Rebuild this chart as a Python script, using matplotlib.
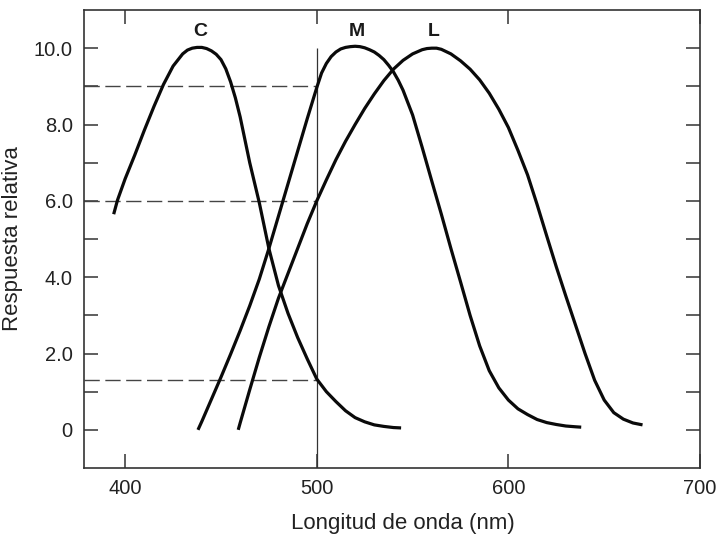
import matplotlib
matplotlib.use('Agg')
import matplotlib.pyplot as plt

plt.rcParams['font.family'] = ['Liberation Sans', 'DejaVu Sans']

# curvas (longitud de onda en nm, respuesta relativa)
c_wl = [394, 396, 400, 405, 410, 415, 420, 425, 430, 432.5, 435, 437.5, 440, 442.5,
        445, 447.5, 450, 452.5, 455, 457.5, 460, 465, 470, 475, 480, 485, 490, 495,
        500, 505, 510, 515, 520, 525, 530, 535, 540, 544]
c_val = [5.65, 6.02, 6.58, 7.2, 7.85, 8.47, 9.05, 9.53, 9.85, 9.95, 10.0, 10.02,
         10.02, 9.99, 9.93, 9.84, 9.7, 9.46, 9.12, 8.7, 8.2, 7.0, 5.95, 4.75, 3.78,
         3.05, 2.42, 1.86, 1.33, 1.0, 0.74, 0.5, 0.32, 0.21, 0.13, 0.09, 0.06, 0.05]

m_wl = [438, 440, 445, 450, 455, 460, 465, 470, 475, 480, 485, 490, 495, 500, 502.5,
        505, 507.5, 510, 512.5, 515, 517.5, 520, 522.5, 525, 527.5, 530, 532.5, 535,
        537.5, 540, 542.5, 545, 550, 555, 560, 565, 570, 575, 580, 585, 590, 595,
        600, 605, 610, 615, 620, 625, 630, 635, 638]
m_val = [0.0, 0.22, 0.8, 1.38, 1.98, 2.6, 3.25, 3.95, 4.75, 5.6, 6.45, 7.3, 8.15,
         8.97, 9.35, 9.6, 9.78, 9.9, 9.98, 10.02, 10.04, 10.05, 10.04, 10.01, 9.96,
         9.9, 9.81, 9.7, 9.55, 9.38, 9.16, 8.9, 8.25, 7.4, 6.52, 5.65, 4.75, 3.88,
         3.0, 2.2, 1.55, 1.1, 0.78, 0.55, 0.4, 0.27, 0.19, 0.14, 0.1, 0.08, 0.07]

l_wl = [459, 460, 465, 470, 475, 480, 485, 490, 495, 500, 505, 510, 515, 520, 525,
        530, 535, 540, 545, 550, 555, 557.5, 560, 562.5, 565, 570, 575, 580, 585,
        590, 595, 600, 605, 610, 615, 620, 625, 630, 635, 640, 645, 650, 655, 660,
        665, 670]
l_val = [0.0, 0.18, 1.05, 1.9, 2.7, 3.45, 4.1, 4.75, 5.4, 6.0, 6.55, 7.08, 7.56,
         8.0, 8.42, 8.8, 9.15, 9.45, 9.68, 9.85, 9.96, 9.99, 10.0, 10.0, 9.97, 9.85,
         9.67, 9.45, 9.17, 8.82, 8.4, 7.92, 7.32, 6.68, 5.9, 5.08, 4.27, 3.5, 2.75,
         2.0, 1.3, 0.78, 0.45, 0.28, 0.18, 0.13]

curve_names = ['C', 'M', 'L']
peak_wl = [439, 521, 561]

cut_wl = 500
ref_levels = [9.0, 6.0, 1.3]

x_ticks = [400, 500, 600, 700]
y_ticks = list(range(0, 11))
y_tick_labels = ['0', '', '2.0', '', '4.0', '', '6.0', '', '8.0', '', '10.0']

x_lo, x_hi = 378.5, 700
y_lo, y_hi = -1.0, 11.0

fig = plt.figure(figsize=(7.19, 5.38), dpi=100)
ax = fig.add_axes([0.1168, 0.1301, 0.8568, 0.8513])

for wl, val in [(c_wl, c_val), (m_wl, m_val), (l_wl, l_val)]:
    ax.plot(wl, val, color='#0a0a0a', lw=2.3, solid_capstyle='butt',
            solid_joinstyle='round', zorder=3)

ax.hlines(ref_levels, x_lo, cut_wl, colors='#444444', lw=1.0,
          linestyles=(0, (11, 4)), zorder=2)
ax.vlines(cut_wl, y_lo, 10.0, colors='#333333', lw=0.9, zorder=2)

for name, wl in zip(curve_names, peak_wl):
    ax.text(wl, 10.43, name, ha='center', va='center', fontsize=14, fontweight='bold',
            color='#1a1a1a')

ax.set_xlim(x_lo, x_hi)
ax.set_ylim(y_lo, y_hi)
ax.set_xticks(x_ticks)
ax.set_yticks(y_ticks)
ax.set_yticklabels(y_tick_labels)

ax.tick_params(direction='in', length=10, width=1.1, color='#333333',
               top=True, right=True, labelsize=14.5, labelcolor='#222222')
ax.tick_params(axis='x', pad=8)
ax.tick_params(axis='y', pad=8)
for s in ax.spines.values():
    s.set_linewidth(1.2)
    s.set_color('#333333')

ax.set_xlabel('Longitud de onda (nm)', fontsize=16, labelpad=11, color='#222222')
ax.xaxis.label.set_x(0.518)
ax.set_ylabel('Respuesta relativa', fontsize=16, labelpad=8, color='#222222')

fig.savefig('out.png', dpi=100)
